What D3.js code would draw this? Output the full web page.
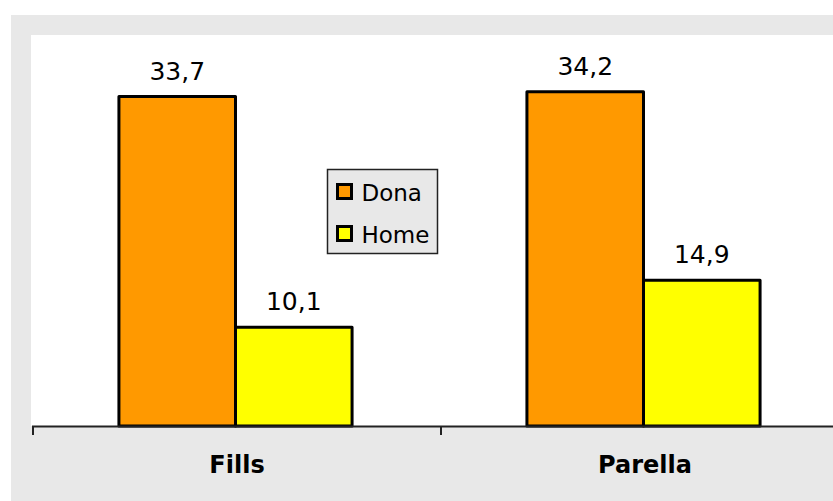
<!DOCTYPE html>
<html>
<head>
<meta charset="utf-8">
<script src="https://cdn.jsdelivr.net/npm/d3@7"></script>
<style>
html,body{margin:0;padding:0;background:#fff;overflow:hidden;}
svg{display:block;}
text{font-family:"DejaVu Sans",Verdana,sans-serif;}
</style>
</head>
<body>
<svg id="chart" width="833" height="501"></svg>
<script>
const categories = ["Fills", "Parella"];
const seriesNames = ["Dona", "Home"];
const donaValues = [33.7, 34.2];
const homeValues = [10.1, 14.9];
const valueLabels = [["33,7", "10,1"], ["34,2", "14,9"]];
const colors = ["#FF9900", "#FFFF00"];

const svg = d3.select("#chart");
const W = 833, H = 501;

// outer gray chart area
svg.append("rect").attr("x", 11).attr("y", 15).attr("width", W - 11 + 5).attr("height", H - 15 + 5).attr("fill", "#e8e8e8");
// white plot area
const plotTop = 35, plotBottom = 426, plotLeft = 31;
svg.append("rect").attr("x", plotLeft).attr("y", plotTop).attr("width", W - plotLeft + 5).attr("height", plotBottom - plotTop).attr("fill", "#ffffff");

const x0 = d3.scaleBand().domain(categories).range([33, 33 + 408 * 2]).padding(0);
const x1 = d3.scaleBand().domain(seriesNames).range([-1.5, x0.bandwidth() - 1.5]).paddingInner(0).paddingOuter(0.75);
const y = d3.scaleLinear().domain([0, 40]).range([plotBottom, plotTop]);

const data = categories.map((c, i) => ({
  cat: c,
  vals: [
    {s: seriesNames[0], v: donaValues[i], label: valueLabels[i][0], color: colors[0]},
    {s: seriesNames[1], v: homeValues[i], label: valueLabels[i][1], color: colors[1]}
  ]
}));

const g = svg.selectAll("g.cat").data(data).enter().append("g")
  .attr("class", "cat")
  .attr("transform", d => `translate(${x0(d.cat)},0)`);

g.selectAll("rect").data(d => d.vals).enter().append("rect")
  .attr("x", d => x1(d.s))
  .attr("y", d => y(d.v))
  .attr("width", x1.bandwidth())
  .attr("height", d => y(0) - y(d.v))
  .attr("fill", d => d.color)
  .attr("stroke", "#000")
  .attr("stroke-width", 3)
  .attr("stroke-linejoin", "round");

g.selectAll("text.val").data(d => d.vals).enter().append("text")
  .attr("class", "val")
  .attr("x", d => x1(d.s) + x1.bandwidth() / 2)
  .attr("y", d => y(d.v) - 17)
  .attr("text-anchor", "middle")
  .attr("font-size", 25)
  .attr("fill", "#000")
  .text(d => d.label);

// x axis
svg.append("line").attr("x1", 32).attr("x2", W + 5).attr("y1", plotBottom + 0.5).attr("y2", plotBottom + 0.5)
  .attr("stroke", "#222").attr("stroke-width", 2);
const tickPositions = categories.map(c => x0(c));
svg.selectAll("line.tick").data(tickPositions).enter().append("line")
  .attr("class", "tick")
  .attr("x1", d => d).attr("x2", d => d)
  .attr("y1", plotBottom).attr("y2", plotBottom + 9)
  .attr("stroke", "#222").attr("stroke-width", 2);

svg.selectAll("text.cat").data(categories).enter().append("text")
  .attr("class", "cat")
  .attr("x", d => x0(d) + x0.bandwidth() / 2)
  .attr("y", 473)
  .attr("text-anchor", "middle")
  .attr("font-size", 24)
  .attr("font-weight", "bold")
  .attr("fill", "#000")
  .text(d => d);

// legend
const lg = svg.append("g").attr("transform", "translate(327.5,169.5)");
lg.append("rect").attr("width", 110).attr("height", 84).attr("fill", "#e8e8e8").attr("stroke", "#222").attr("stroke-width", 1.5);
const items = lg.selectAll("g.item").data(seriesNames).enter().append("g")
  .attr("transform", (d, i) => `translate(0,${i * 42})`);
items.append("rect").attr("x", 10).attr("y", 15).attr("width", 14).attr("height", 14)
  .attr("fill", (d, i) => colors[i]).attr("stroke", "#000").attr("stroke-width", 3);
items.append("text").attr("x", 34).attr("y", 31).attr("font-size", 23).attr("fill", "#000").text(d => d);
</script>
</body>
</html>
